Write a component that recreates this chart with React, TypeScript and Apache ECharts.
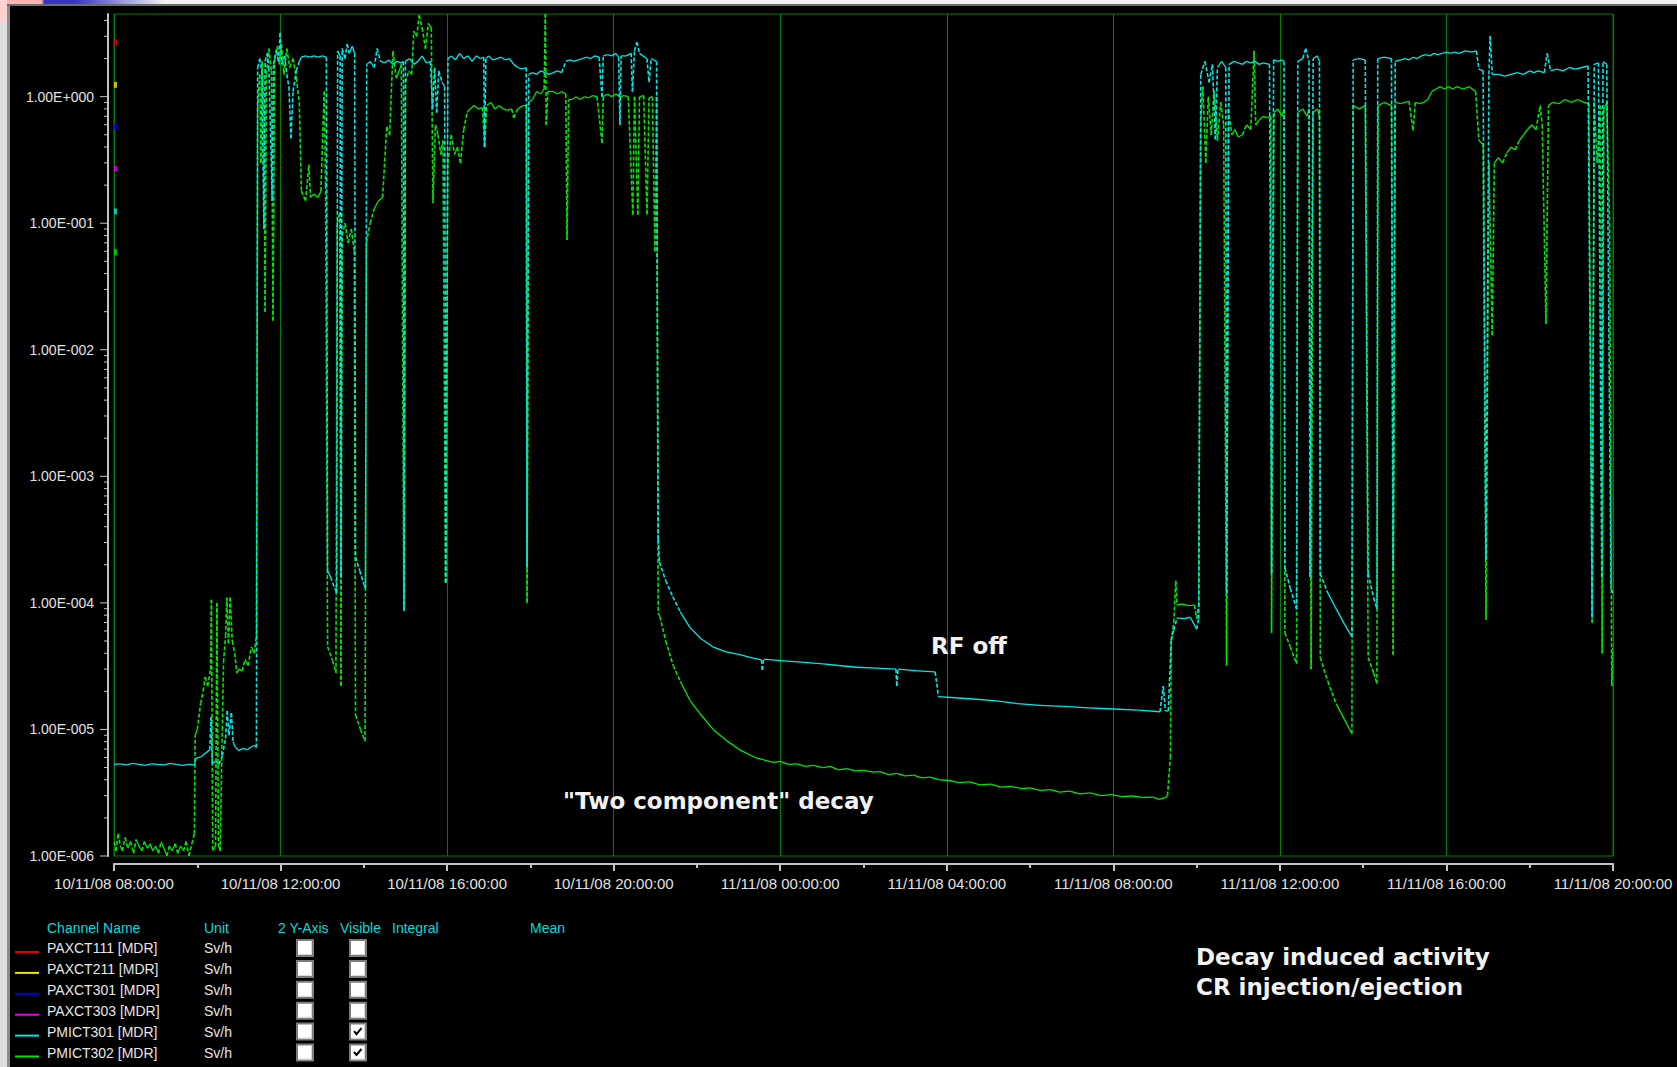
import React, { useEffect, useRef } from "react";
import * as echarts from "echarts";

// ---------- Channel table (legend) ----------
const legendHeaders = ["Channel Name", "Unit", "2 Y-Axis", "Visible", "Integral", "Mean"];
const channelNames = [
  "PAXCT111 [MDR]",
  "PAXCT211 [MDR]",
  "PAXCT301 [MDR]",
  "PAXCT303 [MDR]",
  "PMICT301 [MDR]",
  "PMICT302 [MDR]",
];
const channelUnits = ["Sv/h", "Sv/h", "Sv/h", "Sv/h", "Sv/h", "Sv/h"];
const channelColors = ["#E80000", "#E8E800", "#0000E8", "#E800E8", "#00E8E8", "#00E800"];
const channelTwoAxis = [false, false, false, false, false, false];
const channelVisible = [false, false, false, false, true, true];
// small scale markers drawn at the left edge of the plot, one per channel (Sv/h)
const channelMarkerValues = [2.69, 1.24, 0.58, 0.27, 0.124, 0.059];

// ---------- Axis ----------
const X_MIN_HOUR = 8; // 10/11/08 08:00
const X_MAX_HOUR = 44; // 11/11/08 20:00
const X_STEP_HOURS = 4;
const Y_MIN = 1e-6;
const Y_MAX = 4.5;
const yDecades = [1e-6, 1e-5, 1e-4, 1e-3, 1e-2, 1e-1, 1];
const yMinorMultipliers = [2, 3, 4, 5, 6, 7, 8, 9];

// ---------- PMICT301 (cyan), [hour since 10/11/08 00:00, Sv/h] ----------
const pmict301Before = [
  [8.0, 5.3e-6], [8.15, 5.35e-6], [8.3, 5.25e-6], [8.45, 5.4e-6], [8.6, 5.3e-6], [8.75, 5.2e-6],
  [8.9, 5.35e-6], [9.05, 5.3e-6], [9.2, 5.25e-6], [9.35, 5.4e-6], [9.5, 5.3e-6], [9.65, 5.2e-6],
  [9.8, 5.3e-6], [9.93, 5.25e-6], [9.97, 5.9e-6], [10.1, 6.1e-6], [10.2, 6.5e-6], [10.3, 6.9e-6],
  [10.33, 1.25e-5], [10.36, 5.4e-6], [10.45, 5.6e-6], [10.52, 5.3e-6], [10.6, 6.2e-6], [10.68, 8.5e-6],
  [10.72, 1.4e-5], [10.76, 9e-6], [10.82, 1.35e-5], [10.86, 8e-6], [10.92, 7.2e-6], [11.0, 6.8e-6],
  [11.1, 7.1e-6], [11.2, 6.9e-6], [11.3, 7.3e-6], [11.38, 7.5e-6], [11.42, 7.2e-6],
];
const pmict301Beam1 = [
  [11.45, 1.7], [11.5, 2.0], [11.55, 1.6], [11.6, 0.09], [11.63, 1.9], [11.68, 2.2], [11.72, 1.7],
  [11.8, 0.15], [11.83, 1.8], [11.9, 2.3], [11.95, 1.9], [11.99, 3.2], [12.03, 1.8], [12.1, 2.1],
  [12.15, 1.5], [12.2, 1.2], [12.25, 0.47], [12.3, 1.1], [12.38, 1.6], [12.45, 1.9], [12.5, 2.05],
  [12.6, 2.1], [12.7, 2.05], [12.8, 2.1], [12.9, 2.05], [13.0, 2.1], [13.1, 2.05], [13.13, 1.8e-4],
  [13.2, 1.6e-4], [13.3, 1.3e-4], [13.35, 1.2e-4], [13.37, 2.3], [13.43, 2.1], [13.45, 1.6e-4],
  [13.48, 2.4], [13.55, 2.0], [13.6, 2.6], [13.65, 2.2], [13.72, 2.5], [13.78, 2.2], [13.8, 2.3e-4],
  [13.9, 1.8e-4], [14.0, 1.4e-4], [14.04, 1.3e-4], [14.07, 1.8], [14.15, 1.9], [14.25, 1.7],
  [14.32, 2.4], [14.4, 1.9], [14.5, 1.85], [14.6, 1.95], [14.7, 1.8], [14.8, 1.9], [14.9, 1.85],
  [14.95, 1.9], [14.97, 8.7e-5], [15.0, 1.9], [15.1, 2.0], [15.2, 1.8], [15.3, 1.9], [15.4, 2.1],
  [15.5, 1.85], [15.6, 1.9], [15.65, 0.8], [15.7, 1.7], [15.75, 0.75], [15.8, 1.6], [15.88, 1.3],
  [15.94, 1.2], [15.97, 1.45e-4], [16.02, 2.0], [16.1, 2.1], [16.2, 1.95], [16.3, 2.2], [16.4, 2.0],
  [16.5, 2.1], [16.6, 1.9], [16.7, 2.1], [16.8, 2.0], [16.88, 2.05], [16.9, 0.4], [16.93, 2.0],
  [17.0, 2.1], [17.1, 1.95], [17.2, 2.0], [17.3, 2.05], [17.4, 1.95], [17.5, 2.0], [17.6, 1.8],
  [17.7, 1.7], [17.8, 1.65], [17.9, 1.7], [17.92, 1.9e-4], [17.96, 1.5], [18.05, 1.55], [18.15, 1.5],
  [18.25, 1.6], [18.35, 1.55], [18.45, 1.5], [18.55, 1.55], [18.65, 1.6], [18.75, 1.55], [18.85, 1.9],
  [18.95, 1.95], [19.05, 1.9], [19.15, 1.95], [19.25, 2.0], [19.35, 2.05], [19.45, 2.0], [19.55, 2.1],
  [19.65, 2.05], [19.72, 1.0], [19.75, 2.1], [19.85, 2.15], [19.95, 2.1], [20.05, 2.2], [20.12, 2.05],
  [20.15, 0.6], [20.18, 2.1], [20.3, 2.1], [20.42, 2.2], [20.45, 1.1], [20.5, 2.3], [20.56, 2.7],
  [20.62, 2.2], [20.7, 2.1], [20.8, 2.0], [20.85, 1.3], [20.9, 2.0], [20.97, 1.95], [21.03, 1.9],
];
const pmict301Decay = [
  [21.07, 3.2e-4], [21.1, 2.1e-4], [21.25, 1.5e-4], [21.42, 1.12e-4], [21.6, 8.5e-5], [21.83, 6.4e-5],
  [22.1, 5.2e-5], [22.38, 4.5e-5], [22.7, 4.1e-5], [23.03, 3.9e-5], [23.3, 3.7e-5], [23.55, 3.55e-5],
  [23.57, 2.95e-5], [23.6, 3.6e-5], [24.0, 3.5e-5], [24.5, 3.4e-5], [25.03, 3.3e-5], [25.4, 3.2e-5],
  [25.84, 3.1e-5], [26.3, 3.05e-5], [26.78, 3.0e-5], [26.8, 2.2e-5], [26.83, 3.0e-5], [27.3, 2.9e-5],
  [27.72, 2.85e-5], [27.76, 2.3e-5], [27.8, 1.82e-5], [28.2, 1.78e-5], [28.63, 1.74e-5], [29.2, 1.68e-5],
  [29.7, 1.6e-5], [30.24, 1.55e-5], [30.8, 1.52e-5], [31.4, 1.48e-5], [32.0, 1.45e-5], [32.6, 1.42e-5],
  [33.12, 1.38e-5],
];
const pmict301Beam2 = [
  [33.2, 2.2e-5], [33.25, 1.4e-5], [33.32, 1.4e-5], [33.39, 5.1e-5], [33.45, 6.1e-5], [33.53, 7.6e-5],
  [33.7, 7.5e-5], [33.85, 7.7e-5], [34.0, 6.2e-5], [34.05, 7.5e-5], [34.1, 1.5], [34.2, 1.9], [34.3, 1.3],
  [34.38, 1.8], [34.45, 0.46], [34.5, 1.7], [34.6, 1.9], [34.7, 1.7], [34.72, 1.2e-4], [34.78, 1.8],
  [34.9, 1.9], [35.0, 1.85], [35.1, 1.8], [35.2, 1.9], [35.3, 1.85], [35.4, 1.9], [35.5, 1.8],
  [35.6, 1.85], [35.75, 1.8], [35.8, 1.7e-4], [35.85, 1.95], [35.95, 1.9], [36.05, 1.95], [36.1, 1.9],
  [36.12, 1.9e-4], [36.25, 1.3e-4], [36.4, 9e-5], [36.43, 1.9], [36.55, 2.0], [36.62, 2.4], [36.7, 1.9],
  [36.72, 1.6e-4], [36.8, 2.0], [36.9, 2.1], [36.95, 1.9], [36.97, 1.7e-4], [37.15, 1.2e-4],
  [37.35, 9e-5], [37.55, 6.8e-5], [37.73, 5.4e-5], [37.76, 1.95], [37.9, 2.0], [38.05, 1.95],
  [38.12, 1.7e-4], [38.25, 1.1e-4], [38.33, 9e-5], [38.35, 2.0], [38.5, 2.05], [38.68, 2.0],
  [38.72, 1.8e-4], [38.77, 1.9], [38.9, 1.95], [39.0, 2.0], [39.1, 1.95], [39.2, 2.05], [39.3, 2.0],
  [39.4, 2.1], [39.5, 2.15], [39.6, 2.1], [39.7, 2.2], [39.8, 2.15], [39.9, 2.2], [40.0, 2.25],
  [40.1, 2.2], [40.2, 2.25], [40.3, 2.2], [40.45, 2.3], [40.6, 2.25], [40.72, 2.3], [40.78, 1.65],
  [40.88, 1.6], [40.95, 2.2e-4], [41.02, 1.5], [41.05, 3.0], [41.1, 1.5], [41.25, 1.5], [41.4, 1.45],
  [41.55, 1.5], [41.7, 1.55], [41.85, 1.5], [42.0, 1.6], [42.1, 1.55], [42.2, 1.6], [42.35, 1.55],
  [42.42, 2.2], [42.5, 1.6], [42.65, 1.65], [42.8, 1.6], [42.95, 1.7], [43.1, 1.65], [43.25, 1.7],
  [43.4, 1.75], [43.5, 7.7e-5], [43.55, 1.8], [43.65, 1.85], [43.73, 1.6e-4], [43.76, 1.9],
  [43.85, 1.8], [43.95, 1.3e-4], [44.0, 1.2e-4],
];

// ---------- PMICT302 (green) ----------
const pmict302Before = [
  [8.0, 1.3e-6], [8.05, 1.1e-6], [8.1, 1.5e-6], [8.15, 1.2e-6], [8.2, 1.1e-6], [8.27, 1.4e-6],
  [8.33, 1.15e-6], [8.4, 1.3e-6], [8.47, 1.05e-6], [8.53, 1.35e-6], [8.6, 1.2e-6], [8.67, 1.1e-6],
  [8.73, 1.3e-6], [8.8, 1.15e-6], [8.87, 1.25e-6], [8.93, 1.1e-6], [9.0, 1.2e-6], [9.07, 1.05e-6],
  [9.13, 1.3e-6], [9.2, 1.15e-6], [9.27, 1.0e-6], [9.33, 1.2e-6], [9.4, 1.1e-6], [9.47, 1.25e-6],
  [9.53, 1.05e-6], [9.6, 1.2e-6], [9.67, 1.1e-6], [9.73, 1.3e-6], [9.8, 1.0e-6], [9.87, 1.25e-6],
  [9.93, 1.5e-6], [9.95, 9e-6], [10.0, 1.0e-5], [10.08, 1.6e-5], [10.14, 2.0e-5], [10.19, 2.6e-5],
  [10.25, 2.2e-5], [10.32, 3.0e-5], [10.34, 1.06e-4], [10.37, 1.1e-6], [10.44, 1.2e-6], [10.47, 1.0e-4],
  [10.51, 1.2e-6], [10.55, 1.1e-6], [10.6, 1.0e-5], [10.63, 3.4e-5], [10.68, 5.5e-5], [10.71, 1.1e-4],
  [10.75, 4.8e-5], [10.79, 1.1e-4], [10.84, 5.0e-5], [10.9, 4.0e-5], [10.95, 2.8e-5], [11.0, 3.0e-5],
  [11.08, 2.9e-5], [11.15, 3.6e-5], [11.22, 3.2e-5], [11.3, 4.5e-5], [11.37, 4.0e-5], [11.42, 5.5e-5],
];
const pmict302Beam1 = [
  [11.45, 0.8], [11.5, 1.5], [11.53, 0.3], [11.56, 1.9], [11.6, 0.7], [11.63, 0.02], [11.66, 1.5],
  [11.72, 2.4], [11.78, 1.6], [11.82, 0.017], [11.86, 2.0], [11.92, 2.5], [11.97, 1.8], [12.02, 2.6],
  [12.08, 1.5], [12.15, 2.4], [12.22, 1.7], [12.3, 2.0], [12.38, 1.4], [12.45, 0.9], [12.5, 0.18],
  [12.6, 0.15], [12.68, 0.29], [12.72, 0.16], [12.8, 0.17], [12.9, 0.16], [12.97, 0.18], [13.02, 0.6],
  [13.05, 1.1], [13.08, 0.2], [13.13, 4.5e-5], [13.25, 3.5e-5], [13.33, 2.8e-5], [13.36, 0.1],
  [13.42, 0.12], [13.45, 2.2e-5], [13.48, 0.08], [13.55, 0.1], [13.62, 0.07], [13.7, 0.09],
  [13.77, 0.06], [13.8, 1.3e-5], [13.92, 1.0e-5], [14.03, 8.1e-6], [14.06, 0.07], [14.15, 0.1],
  [14.25, 0.13], [14.35, 0.15], [14.45, 0.16], [14.55, 0.58], [14.62, 0.5], [14.7, 2.3], [14.78, 1.4],
  [14.85, 1.6], [14.9, 1.8], [14.96, 8.7e-5], [15.0, 1.3], [15.08, 1.6], [15.15, 1.5], [15.2, 3.3],
  [15.27, 3.0], [15.33, 4.4], [15.4, 3.5], [15.48, 2.4], [15.55, 3.8], [15.62, 3.5], [15.66, 0.145],
  [15.72, 0.6], [15.78, 0.5], [15.85, 0.35], [15.9, 0.45], [15.96, 1.45e-4], [16.02, 0.3], [16.1, 0.5],
  [16.18, 0.35], [16.25, 0.4], [16.32, 0.3], [16.4, 0.55], [16.48, 0.75], [16.55, 0.8], [16.65, 0.85],
  [16.75, 0.8], [16.85, 0.82], [16.9, 0.4], [16.95, 0.85], [17.05, 0.9], [17.15, 0.8], [17.25, 0.85],
  [17.35, 0.8], [17.45, 0.78], [17.55, 0.8], [17.6, 0.68], [17.7, 0.8], [17.82, 0.85], [17.9, 0.85],
  [17.92, 1e-4], [17.96, 0.9], [18.05, 0.95], [18.15, 1.1], [18.25, 1.05], [18.33, 1.15], [18.36, 4.5],
  [18.38, 0.6], [18.42, 1.1], [18.55, 1.1], [18.65, 1.05], [18.75, 1.1], [18.85, 1.05], [18.88, 0.074],
  [18.92, 0.95], [19.0, 0.95], [19.1, 1.0], [19.2, 0.95], [19.3, 1.0], [19.4, 0.98], [19.5, 1.02],
  [19.6, 1.0], [19.72, 0.43], [19.75, 1.0], [19.85, 1.05], [19.95, 1.0], [20.05, 1.05], [20.15, 1.0],
  [20.25, 1.02], [20.35, 1.0], [20.46, 0.117], [20.5, 1.0], [20.58, 0.117], [20.62, 1.0], [20.72, 1.02],
  [20.8, 0.117], [20.85, 0.98], [20.93, 1.0], [20.99, 0.06], [21.03, 1.0],
];
const pmict302Decay = [
  [21.07, 8.3e-5], [21.11, 7.8e-5], [21.25, 5.0e-5], [21.43, 3.2e-5], [21.6, 2.4e-5], [21.83, 1.7e-5],
  [22.1, 1.3e-5], [22.39, 1.0e-5], [22.7, 8.2e-6], [23.03, 6.9e-6], [23.4, 6.0e-6], [23.83, 5.5e-6],
  [24.0, 5.6e-6], [24.2, 5.3e-6], [24.4, 5.35e-6], [24.6, 5.1e-6], [24.8, 5.2e-6], [25.03, 5.0e-6],
  [25.2, 5.1e-6], [25.4, 4.8e-6], [25.6, 4.9e-6], [25.8, 4.7e-6], [26.0, 4.75e-6], [26.23, 4.6e-6],
  [26.4, 4.65e-6], [26.6, 4.4e-6], [26.8, 4.5e-6], [27.0, 4.3e-6], [27.2, 4.35e-6], [27.4, 4.15e-6],
  [27.6, 4.2e-6], [27.84, 4.0e-6], [28.05, 3.95e-6], [28.3, 3.8e-6], [28.55, 3.85e-6], [28.8, 3.65e-6],
  [29.05, 3.7e-6], [29.3, 3.5e-6], [29.55, 3.55e-6], [29.8, 3.4e-6], [30.0, 3.45e-6], [30.24, 3.3e-6],
  [30.5, 3.35e-6], [30.7, 3.2e-6], [30.95, 3.25e-6], [31.2, 3.1e-6], [31.45, 3.15e-6], [31.7, 3.0e-6],
  [31.95, 3.05e-6], [32.2, 2.95e-6], [32.45, 2.98e-6], [32.7, 2.9e-6], [32.95, 2.92e-6], [33.1, 2.8e-6],
  [33.26, 2.9e-6],
];
const pmict302Beam2 = [
  [33.3, 3.0e-6], [33.37, 6e-6], [33.39, 5e-5], [33.45, 7e-5], [33.5, 1.5e-4], [33.53, 9.6e-5],
  [33.65, 9.8e-5], [33.8, 9.5e-5], [33.95, 9.6e-5], [34.0, 7.5e-5], [34.05, 9.5e-5], [34.1, 0.6],
  [34.15, 1.2], [34.22, 0.3], [34.28, 1.0], [34.35, 0.5], [34.42, 1.1], [34.5, 0.45], [34.58, 0.9],
  [34.65, 0.6], [34.72, 3.2e-5], [34.76, 0.8], [34.85, 0.5], [34.92, 0.55], [35.0, 0.48], [35.1, 0.5],
  [35.2, 0.6], [35.3, 0.55], [35.38, 2.3], [35.42, 0.6], [35.5, 0.65], [35.6, 0.7], [35.7, 0.68],
  [35.78, 0.7], [35.8, 5.8e-5], [35.86, 0.75], [35.95, 0.8], [36.05, 0.7], [36.1, 0.8], [36.12, 5.8e-5],
  [36.25, 4.5e-5], [36.4, 3.3e-5], [36.43, 0.75], [36.55, 0.8], [36.65, 0.7], [36.7, 0.8], [36.75, 3e-5],
  [36.8, 0.75], [36.9, 0.8], [36.95, 0.7], [36.97, 3.7e-5], [37.15, 2.4e-5], [37.35, 1.6e-5],
  [37.55, 1.2e-5], [37.73, 9.3e-6], [37.76, 0.85], [37.9, 0.8], [38.05, 0.85], [38.12, 3.7e-5],
  [38.25, 2.8e-5], [38.33, 2.3e-5], [38.36, 0.85], [38.5, 0.9], [38.68, 0.85], [38.72, 3.9e-5],
  [38.77, 0.9], [38.9, 0.88], [39.0, 0.9], [39.1, 0.92], [39.2, 0.54], [39.25, 0.9], [39.35, 0.88],
  [39.45, 0.9], [39.55, 0.95], [39.65, 1.1], [39.75, 1.15], [39.85, 1.2], [39.95, 1.15], [40.05, 1.2],
  [40.15, 1.15], [40.25, 1.2], [40.4, 1.15], [40.55, 1.2], [40.7, 1.1], [40.78, 0.45], [40.88, 0.42],
  [40.95, 7.4e-5], [41.02, 0.3], [41.1, 0.013], [41.15, 0.3], [41.25, 0.33], [41.35, 0.3], [41.45, 0.36],
  [41.55, 0.4], [41.65, 0.38], [41.75, 0.45], [41.85, 0.5], [41.95, 0.55], [42.05, 0.6], [42.15, 0.55],
  [42.25, 0.85], [42.3, 0.6], [42.39, 0.016], [42.45, 0.85], [42.55, 0.9], [42.7, 0.88], [42.85, 0.95],
  [43.0, 0.9], [43.15, 0.95], [43.3, 0.9], [43.42, 0.88], [43.5, 7e-5], [43.55, 0.9], [43.62, 0.3],
  [43.7, 0.85], [43.74, 4e-5], [43.78, 0.8], [43.85, 0.9], [43.92, 0.1], [43.97, 2.2e-5], [44.0, 4.4e-5],
];

// ---------- Annotations ----------
const annotationTexts = ["RF off", '"Two component" decay', "Decay induced activity", "CR injection/ejection"];

// ---------- helpers ----------
const pad2 = (n: number) => (n < 10 ? "0" + n : String(n));
const formatHourLabel = (h: number) => {
  const hr = Math.round(h);
  const day = 10 + Math.floor(hr / 24);
  return `${day}/11/08 ${pad2(hr % 24)}:00:00`;
};
const formatSci = (v: number) => {
  const e = Math.round(Math.log10(v));
  const s = e < 0 ? "-" : "+";
  return `1.00E${s}${String(Math.abs(e)).padStart(3, "0")}`;
};
const toSegments = (pts: number[][]) => {
  const out: number[][] = [];
  for (let i = 1; i < pts.length; i++) out.push([pts[i - 1][0], pts[i - 1][1], pts[i][0], pts[i][1]]);
  return out;
};

const UI_FONT = '"Liberation Sans", Arial, sans-serif';
const NOTE_FONT = 'bold 23px "DejaVu Sans", sans-serif';

function segmentSeries(name: string, color: string, points: number[][]) {
  return {
    type: "custom",
    name,
    coordinateSystem: "cartesian2d",
    clip: true,
    silent: true,
    encode: { x: [0, 2], y: [1, 3] },
    data: toSegments(points),
    renderItem: (_p: any, api: any) => {
      const a = api.coord([api.value(0), api.value(1)]);
      const b = api.coord([api.value(2), api.value(3)]);
      const dx = Math.abs(b[0] - a[0]);
      const dy = Math.abs(b[1] - a[1]);
      const dashed = dy > 8 && dy > 2 * dx;
      return {
        type: "line",
        shape: { x1: a[0], y1: a[1], x2: b[0], y2: b[1] },
        style: {
          stroke: color,
          lineWidth: dashed ? 1.6 : 1.3,
          lineDash: dashed ? [4, 2] : null,
          fill: null,
        },
      };
    },
    z: 3,
  };
}

export default function App() {
  const ref = useRef<HTMLDivElement>(null);

  useEffect(() => {
    if (!ref.current) return;
    const chart = echarts.init(ref.current, undefined, { renderer: "svg" });

    const cyan = channelColors[4];
    const green = channelColors[5];
    const cyanPts = [...pmict301Before, ...pmict301Beam1, ...pmict301Decay, ...pmict301Beam2];
    const greenPts = [...pmict302Before, ...pmict302Beam1, ...pmict302Decay, ...pmict302Beam2];

    // y-axis ticks (major at decades, minor at 2..9 x decade)
    const yTicks: number[][] = [];
    yDecades.forEach((d) => {
      yTicks.push([X_MIN_HOUR, d, 1]);
      yMinorMultipliers.forEach((m) => {
        const v = m * d;
        if (v <= Y_MAX) yTicks.push([X_MIN_HOUR, v, 0]);
      });
    });

    const g: any[] = [];
    // window frame decorations
    g.push({ type: "rect", shape: { x: 0, y: 0, width: 1677, height: 4 }, style: { fill: "#F2F2F2" }, silent: true });
    g.push({
      type: "rect",
      shape: { x: 0, y: 0, width: 165, height: 4 },
      style: {
        fill: new echarts.graphic.LinearGradient(0, 0, 1, 0, [
          { offset: 0, color: "#FFB4B4" },
          { offset: 0.25, color: "#FFB4B4" },
          { offset: 0.27, color: "#3434C4" },
          { offset: 0.45, color: "#3434C4" },
          { offset: 1, color: "#F2F2F2" },
        ]),
      },
      silent: true,
    });
    g.push({ type: "rect", shape: { x: 0, y: 4, width: 1677, height: 2 }, style: { fill: "#6E6E6E" }, silent: true });
    g.push({ type: "rect", shape: { x: 0, y: 0, width: 7, height: 1067 }, style: { fill: "#DEDEDE" }, silent: true });
    g.push({ type: "rect", shape: { x: 0, y: 0, width: 7, height: 22 }, style: { fill: "#FFD2D2" }, silent: true });
    g.push({ type: "rect", shape: { x: 7, y: 6, width: 3, height: 1061 }, style: { fill: "#8C8C8C" }, silent: true });

    // channel table
    const headerX = [47, 204, 278, 340, 392, 530];
    legendHeaders.forEach((t, i) => {
      g.push({
        type: "text",
        x: headerX[i],
        y: 928,
        style: { text: t, fill: "#00DCDC", font: `14px ${UI_FONT}`, verticalAlign: "middle" },
        silent: true,
      });
    });
    const drawBox = (x: number, y: number, checked: boolean) => {
      g.push({
        type: "rect",
        shape: { x, y, width: 16, height: 16 },
        style: { fill: "#FFFFFF", stroke: "#7C7C7C", lineWidth: 2 },
        silent: true,
      });
      g.push({
        type: "polyline",
        shape: { points: [[x + 1.5, y + 14.5], [x + 14.5, y + 14.5], [x + 14.5, y + 1.5]] },
        style: { stroke: "#D8D8D8", lineWidth: 1, fill: null },
        silent: true,
      });
      if (checked) {
        g.push({
          type: "polyline",
          shape: { points: [[x + 4, y + 7.5], [x + 6.5, y + 10.5], [x + 11.5, y + 4.5]] },
          style: { stroke: "#000000", lineWidth: 2, fill: null },
          silent: true,
        });
      }
    };
    channelNames.forEach((name, i) => {
      const cy = 948 + i * 20.9;
      g.push({
        type: "line",
        shape: { x1: 15, y1: cy + 4, x2: 39, y2: cy + 4 },
        style: { stroke: channelColors[i], lineWidth: 2 },
        silent: true,
      });
      g.push({
        type: "text",
        x: 47,
        y: cy,
        style: { text: name, fill: "#E6E6E6", font: `14px ${UI_FONT}`, verticalAlign: "middle" },
        silent: true,
      });
      g.push({
        type: "text",
        x: 204,
        y: cy,
        style: { text: channelUnits[i], fill: "#E6E6E6", font: `14px ${UI_FONT}`, verticalAlign: "middle" },
        silent: true,
      });
      drawBox(297, cy - 8, channelTwoAxis[i]);
      drawBox(350, cy - 8, channelVisible[i]);
    });

    // annotations
    const notePos = [
      [931, 646],
      [563, 801],
      [1196, 957],
      [1196, 987],
    ];
    annotationTexts.forEach((t, i) => {
      g.push({
        type: "text",
        x: notePos[i][0],
        y: notePos[i][1],
        z: 100,
        style: { text: t, fill: "#F2F2F2", font: NOTE_FONT, verticalAlign: "middle" },
        silent: true,
      });
    });

    chart.setOption({
      animation: false,
      backgroundColor: "#000000",
      grid: {
        left: 114,
        top: 14,
        width: 1499,
        height: 842,
        show: true,
        borderColor: "#008000",
        borderWidth: 1,
        backgroundColor: "transparent",
        containLabel: false,
      },
      xAxis: {
        type: "value",
        min: X_MIN_HOUR,
        max: X_MAX_HOUR,
        interval: X_STEP_HOURS,
        offset: 8,
        axisLine: { show: true, lineStyle: { color: "#C4C4C4", width: 2 } },
        axisTick: { show: true, length: 7, lineStyle: { color: "#C4C4C4", width: 2 } },
        minorTick: { show: true, splitNumber: 2, length: 4, lineStyle: { color: "#C4C4C4", width: 2 } },
        splitLine: { show: true, lineStyle: { color: "#008000", width: 1 } },
        axisLabel: {
          color: "#E2E2E2",
          fontSize: 15,
          fontFamily: UI_FONT,
          margin: 12,
          showMinLabel: true,
          showMaxLabel: true,
          formatter: (v: number) => formatHourLabel(v),
        },
      },
      yAxis: {
        type: "log",
        logBase: 10,
        min: Y_MIN,
        max: Y_MAX,
        offset: 6,
        axisLine: { show: true, lineStyle: { color: "#C4C4C4", width: 2 } },
        axisTick: { show: false },
        minorTick: { show: false },
        splitLine: { show: false },
        axisLabel: {
          color: "#E2E2E2",
          fontSize: 14,
          fontFamily: UI_FONT,
          margin: 14,
          showMaxLabel: false,
          formatter: (v: number) => formatSci(v),
        },
      },
      graphic: g,
      series: [
        {
          type: "custom",
          name: "yTicks",
          coordinateSystem: "cartesian2d",
          clip: false,
          silent: true,
          encode: { x: 0, y: 1 },
          data: yTicks,
          renderItem: (_p: any, api: any) => {
            const p = api.coord([api.value(0), api.value(1)]);
            const axisX = p[0] - 6;
            const len = api.value(2) ? 8 : 4;
            return {
              type: "line",
              shape: { x1: axisX - len, y1: p[1], x2: axisX, y2: p[1] },
              style: { stroke: "#C4C4C4", lineWidth: 1 },
            };
          },
        },
        segmentSeries(channelNames[5], green, greenPts),
        segmentSeries(channelNames[4], cyan, cyanPts),
        {
          type: "scatter",
          name: "markers",
          clip: false,
          silent: true,
          symbol: "rect",
          symbolSize: [3, 6],
          symbolOffset: [1.5, 0],
          z: 5,
          data: channelMarkerValues.map((v, i) => ({
            value: [X_MIN_HOUR, v],
            itemStyle: { color: channelColors[i] },
          })),
        },
      ],
    });

    return () => chart.dispose();
  }, []);

  return (
    <div
      ref={ref}
      style={{ position: "absolute", left: 0, top: 0, width: 1677, height: 1067, background: "#000" }}
    />
  );
}
